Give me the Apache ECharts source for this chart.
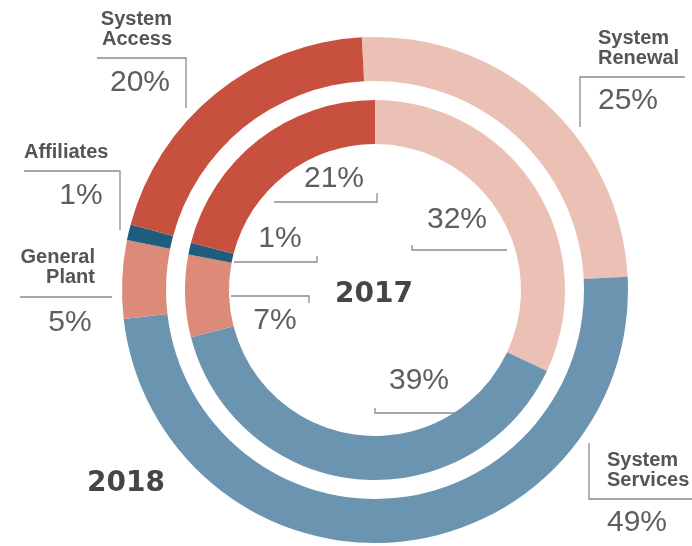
<!DOCTYPE html>
<html>
<head>
<meta charset="utf-8">
<script src="https://cdn.jsdelivr.net/npm/echarts@6/dist/echarts.min.js"></script>
<style>
html,body{margin:0;padding:0;background:#fff;}
#chart{width:692px;height:546px;}
</style>
</head>
<body>
<div id="chart"></div>
<script>
// ---- data ----
const categories = ['System Renewal', 'System Services', 'General Plant', 'Affiliates', 'System Access'];
const values2018 = [25, 49, 5, 1, 20];
const values2017 = [32, 39, 7, 1, 21];
const yearLabels = ['2018', '2017'];

// ---- styles / layout ----
const palette = ['#ecc1b5', '#6b94b1', '#dd8b79', '#1f5d7f', '#c8503f'];
const CX = 375, CY = 290;
const NAME_FONT = 'bold 20px "Liberation Sans", Arial, sans-serif';
const PCT_FONT = '30px "Liberation Sans", Arial, sans-serif';
const YEAR_FONT = 'bold 28px "DejaVu Sans", sans-serif';
const LINE_COLOR = '#8a8a8a';

// label layout for the outer (2018) ring
const outerLayout = {
  'System Access':   {name: [172, 29, 'right'],  pct: [140, 83, 'center'],  line: [[97,58],[186,58],[186,108]]},
  'Affiliates':      {name: [24, 152, 'left'],   pct: [81, 196, 'center'],  line: [[24,171],[120,171],[120,230]]},
  'General Plant':   {name: [95, 267, 'right'],  pct: [70, 323, 'center'],  line: [[20,297],[112,297]]},
  'System Renewal':  {name: [598, 48, 'left'],   pct: [598, 101, 'left'],   line: [[580,127],[580,77],[685,77]]},
  'System Services': {name: [607, 470, 'left'],  pct: [607, 523, 'left'],   line: [[589,443],[589,499],[692,499]]}
};
// label layout for the inner (2017) ring
const innerLayout = {
  'System Access':   {pct: [334, 179], line: [[274,202],[377,202],[377,193]]},
  'Affiliates':      {pct: [280, 239], line: [[234,262],[317,262],[317,256]]},
  'General Plant':   {pct: [275, 321], line: [[231,296],[309,296],[309,303]]},
  'System Renewal':  {pct: [457, 220], line: [[412,245],[412,250],[507,250]]},
  'System Services': {pct: [419, 381], line: [[375,408],[375,413],[462,413]]}
};
const yearLayout = [[87, 484], [335, 295]];

function pieData(values) {
  return categories.map((c, i) => ({name: c, value: values[i], itemStyle: {color: palette[i]}}));
}

const graphics = [];
function addLine(points) {
  graphics.push({type: 'polyline', z: 100, silent: true,
    shape: {points: points}, style: {stroke: LINE_COLOR, lineWidth: 1.3, fill: null}});
}
function addText(text, x, y, font, fill, align, lineHeight) {
  graphics.push({type: 'text', z: 100, silent: true, x: x, y: y,
    style: {text: text, font: font, fill: fill, align: align, verticalAlign: 'middle',
            lineHeight: lineHeight || undefined}});
}

categories.forEach((c, i) => {
  const o = outerLayout[c];
  addLine(o.line);
  addText(c.replace(' ', '\n'), o.name[0], o.name[1], NAME_FONT, '#555555', o.name[2], 20);
  addText(values2018[i] + '%', o.pct[0], o.pct[1], PCT_FONT, '#5e5e5e', o.pct[2]);
  const n = innerLayout[c];
  addLine(n.line);
  addText(values2017[i] + '%', n.pct[0], n.pct[1], PCT_FONT, '#5e5e5e', 'center');
});
yearLabels.forEach((y, i) => {
  addText(y, yearLayout[i][0], yearLayout[i][1], YEAR_FONT, '#454545', 'left');
});

const chart = echarts.init(document.getElementById('chart'), null, {renderer: 'canvas'});
const common = {
  type: 'pie', center: [CX, CY], clockwise: true, silent: true,
  avoidLabelOverlap: false, label: {show: false}, labelLine: {show: false},
  emphasis: {disabled: true}, itemStyle: {borderWidth: 0}
};
chart.setOption({
  animation: false,
  backgroundColor: '#ffffff',
  series: [
    Object.assign({}, common, {name: yearLabels[0], radius: [209, 253], startAngle: 93, data: pieData(values2018)}),
    Object.assign({}, common, {name: yearLabels[1], radius: [146, 190], startAngle: 90, data: pieData(values2017)})
  ],
  graphic: graphics
});
</script>
</body>
</html>
